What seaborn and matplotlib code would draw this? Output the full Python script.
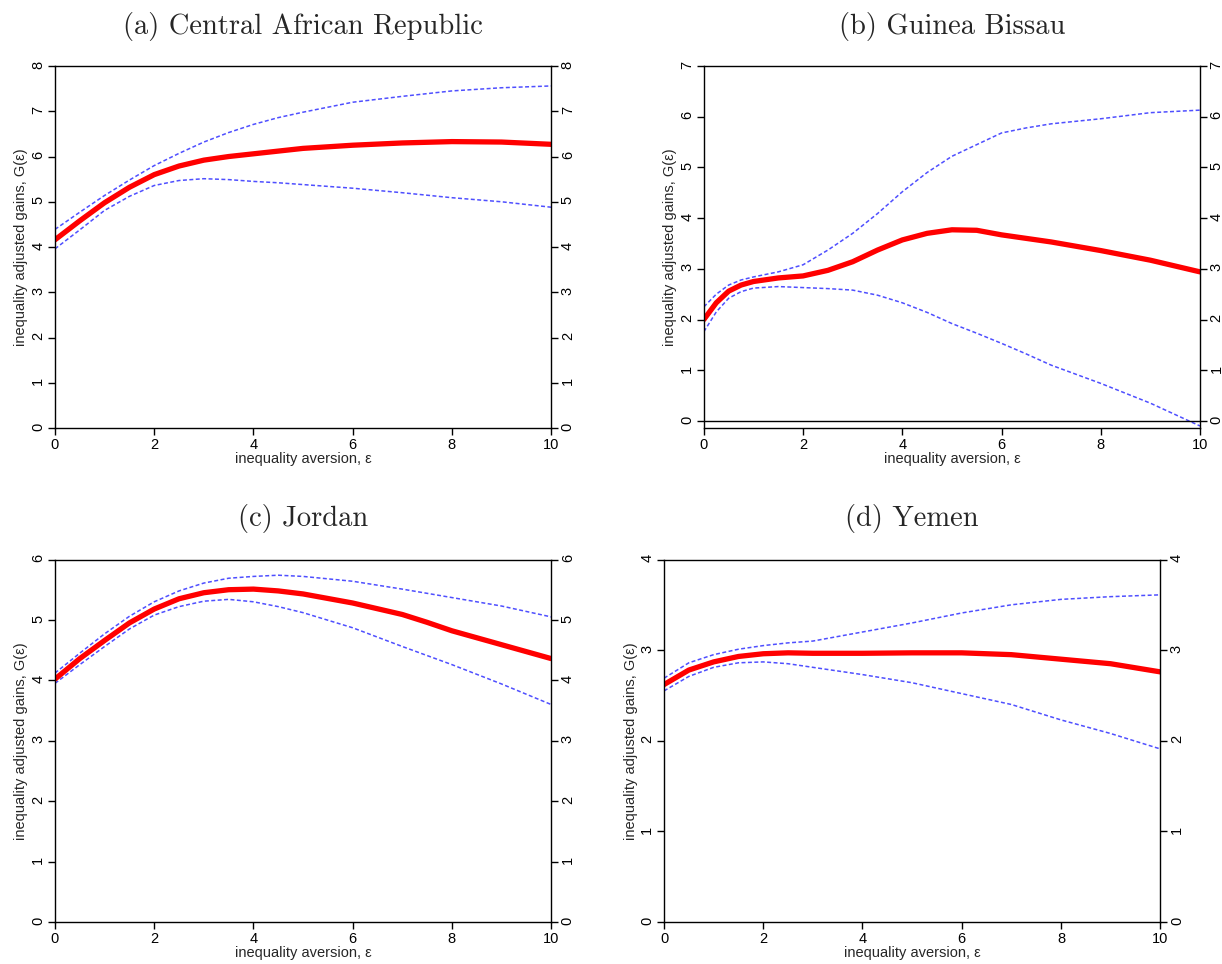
import matplotlib
matplotlib.use("Agg")
import matplotlib.pyplot as plt
import seaborn as sns

# (a) Central African Republic
car_eps = [0, 0.5, 1, 1.5, 2, 2.5, 3, 3.5, 4, 4.5, 5, 6, 7, 8, 9, 10]
car_g = [4.16, 4.58, 4.98, 5.32, 5.6, 5.79, 5.92, 6.0, 6.06, 6.12, 6.18, 6.25, 6.3, 6.33, 6.32, 6.27]
car_hi = [4.39, 4.77, 5.14, 5.48, 5.8, 6.07, 6.32, 6.53, 6.71, 6.86, 6.98, 7.2, 7.33, 7.45, 7.52, 7.56]
car_lo = [3.96, 4.38, 4.81, 5.12, 5.36, 5.47, 5.51, 5.49, 5.45, 5.42, 5.38, 5.3, 5.2, 5.09, 5.0, 4.88]

# (b) Guinea Bissau
gnb_eps = [0, 0.25, 0.5, 0.75, 1, 1.5, 2, 2.5, 3, 3.5, 4, 4.5, 5, 5.5, 6, 6.5, 7, 8, 9, 10]
gnb_g = [2.0, 2.33, 2.56, 2.68, 2.75, 2.82, 2.86, 2.97, 3.14, 3.37, 3.57, 3.7, 3.77, 3.76, 3.67, 3.6, 3.53, 3.36, 3.17, 2.94]
gnb_hi = [2.25, 2.5, 2.68, 2.78, 2.84, 2.94, 3.08, 3.37, 3.7, 4.09, 4.52, 4.9, 5.22, 5.45, 5.68, 5.78, 5.86, 5.96, 6.08, 6.13]
gnb_lo = [1.76, 2.15, 2.42, 2.55, 2.62, 2.65, 2.63, 2.61, 2.58, 2.48, 2.33, 2.14, 1.92, 1.73, 1.53, 1.32, 1.1, 0.74, 0.35, -0.1]

# (c) Jordan
jor_eps = [0, 0.5, 1, 1.5, 2, 2.5, 3, 3.5, 4, 4.5, 5, 6, 7, 7.5, 8, 9, 10]
jor_g = [4.02, 4.36, 4.66, 4.95, 5.18, 5.35, 5.45, 5.5, 5.51, 5.48, 5.43, 5.28, 5.09, 4.96, 4.82, 4.59, 4.36]
jor_hi = [4.12, 4.45, 4.77, 5.06, 5.3, 5.48, 5.61, 5.69, 5.72, 5.74, 5.72, 5.64, 5.51, 5.44, 5.37, 5.23, 5.05]
jor_lo = [3.95, 4.26, 4.56, 4.85, 5.08, 5.22, 5.31, 5.34, 5.3, 5.22, 5.12, 4.87, 4.56, 4.41, 4.26, 3.94, 3.6]

# (d) Yemen
yem_eps = [0, 0.5, 1, 1.5, 2, 2.5, 3, 4, 5, 6, 7, 8, 9, 10]
yem_g = [2.62, 2.78, 2.87, 2.93, 2.96, 2.97, 2.965, 2.965, 2.97, 2.97, 2.95, 2.9, 2.85, 2.76]
yem_hi = [2.69, 2.86, 2.95, 3.01, 3.05, 3.08, 3.1, 3.2, 3.3, 3.41, 3.5, 3.56, 3.59, 3.61]
yem_lo = [2.55, 2.71, 2.81, 2.86, 2.87, 2.85, 2.81, 2.73, 2.64, 2.52, 2.4, 2.23, 2.08, 1.91]

titles = ["(a) Central African Republic", "(b) Guinea Bissau", "(c) Jordan", "(d) Yemen"]
ymax = [8, 7, 6, 4]

sns.set_theme(style="ticks")
plt.rcParams["font.family"] = ["Liberation Sans", "DejaVu Sans"]
plt.rcParams["axes.unicode_minus"] = False

fig = plt.figure(figsize=(12.22, 9.64), dpi=100)
# axes boxes in figure fractions (left, bottom, width, height)
boxes = [
    [0.045, 0.556, 0.406, 0.3755],
    [0.576, 0.556, 0.406, 0.3755],
    [0.045, 0.0436, 0.406, 0.376],
    [0.5434, 0.0436, 0.406, 0.376],
]
panels = [
    (car_eps, car_g, car_hi, car_lo),
    (gnb_eps, gnb_g, gnb_hi, gnb_lo),
    (jor_eps, jor_g, jor_hi, jor_lo),
    (yem_eps, yem_g, yem_hi, yem_lo),
]

for i, (eps, g, hi, lo) in enumerate(panels):
    ax = fig.add_axes(boxes[i])
    for band in (hi, lo):
        sns.lineplot(x=eps, y=band, ax=ax, color="#4f4fff", lw=1.1,
                     linestyle=(0, (2.6, 1.6)))
    sns.lineplot(x=eps, y=g, ax=ax, color="red", lw=3.8)
    if i == 1:
        ax.axhline(0, color="black", lw=1)
        ax.set_ylim(-0.14, 7)
    else:
        ax.set_ylim(0, ymax[i])
    ax.set_xlim(0, 10)
    ax.set_xticks([0, 2, 4, 6, 8, 10])
    ax.set_yticks(range(0, ymax[i] + 1))
    ax.tick_params(axis="both", direction="out", length=5, width=1,
                   labelsize=10.5, color="black", labelcolor="black", pad=2)
    ax.tick_params(axis="y", right=True, labelright=True, labelrotation=90)
    for s in ax.spines.values():
        s.set_color("black")
        s.set_linewidth(1)
    ax.set_xlabel("inequality aversion, \u03b5", fontsize=10.5, labelpad=0)
    ax.set_ylabel("inequality adjusted gains, G(\u03b5)", fontsize=10.5, labelpad=2)
    ax.set_title(titles[i], fontsize=20.5, family="cmr10", pad=23 if i < 2 else 24)

fig.savefig("out.png", dpi=100)
